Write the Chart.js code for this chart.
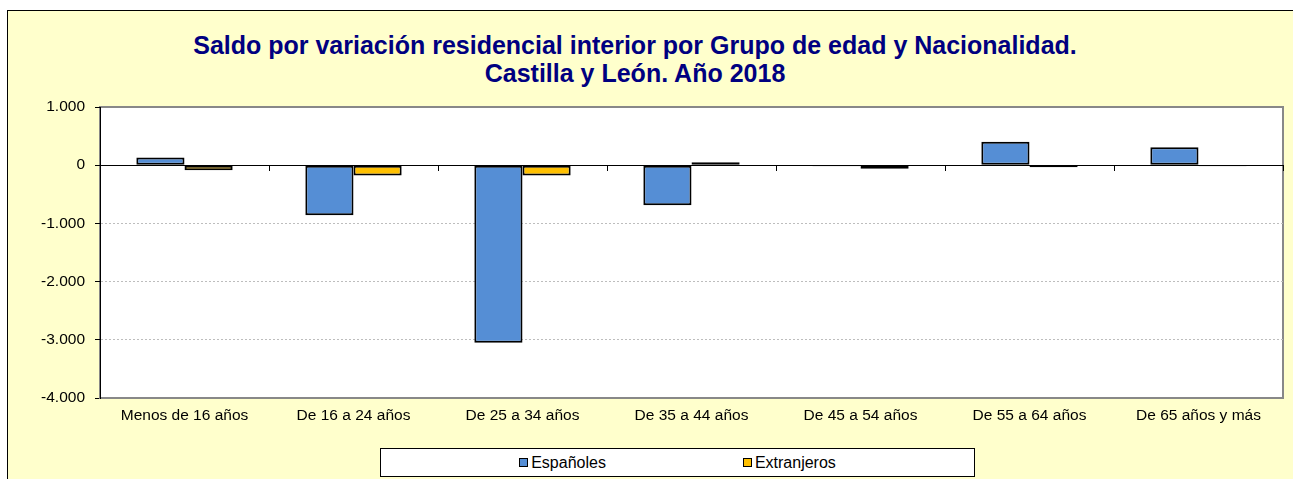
<!DOCTYPE html>
<html>
<head>
<meta charset="utf-8">
<script src="https://cdn.jsdelivr.net/npm/chart.js@4"></script>
<style>
  body {
    margin: 0;
    width: 1293px;
    height: 479px;
    overflow: hidden;
    background: #fff;
    position: relative;
    font-family: "Liberation Sans", Arial, sans-serif;
  }
  #marco {
    position: absolute;
    left: 7px;
    top: 10px;
    width: 1300px;
    height: 480px;
    background: #ffffcc;
    border-top: 1px solid #000;
    border-left: 1px solid #000;
  }
  #titulo {
    position: absolute;
    left: 0;
    top: 31px;
    width: 1270px;
    text-align: center;
    color: #000080;
    font-weight: bold;
    font-size: 25px;
    line-height: 28px;
  }
  #grafico {
    position: absolute;
    left: 0;
    top: 0;
  }
  #leyenda {
    position: absolute;
    left: 380px;
    top: 448px;
    width: 595px;
    height: 29px;
    box-sizing: border-box;
    background: #fff;
    border: 1px solid #000;
    display: flex;
    align-items: center;
    justify-content: center;
    gap: 137px;
    font-size: 16px;
    color: #000;
  }
  #leyenda .item { display: flex; align-items: center; }
  #leyenda .caja {
    width: 7px;
    height: 7px;
    border: 1.5px solid #000;
    margin-right: 3px;
  }
</style>
</head>
<body>
<div id="marco"></div>
<div id="titulo">Saldo por variación residencial interior por Grupo de edad y Nacionalidad.<br>Castilla y León. Año 2018</div>
<canvas id="grafico" width="1293" height="479"></canvas>
<div id="leyenda"></div>
<script>
// datos
const categorias = ['Menos de 16 años', 'De 16 a 24 años', 'De 25 a 34 años', 'De 35 a 44 años',
  'De 45 a 54 años', 'De 55 a 64 años', 'De 65 años y más']
const espanoles = [132, -859, -3052, -687, -18, 402, 309]
const extranjeros = [-86, -175, -177, 50, -60, -35, -18]
const series = ['Españoles', 'Extranjeros']
const colores = ['#558ed5', '#ffc000']
const ejeY = { min: -4000, max: 1000, paso: 1000 }
const lineasGuia = [-1000, -2000, -3000]

const fuente = { family: '"Liberation Sans", Arial, sans-serif', size: 15.5 }

// 1.000 / -4.000
const formato = (v) => {
  const s = String(Math.abs(v)).replace(/\B(?=(\d{3})+(?!\d))/g, '.')
  return v < 0 ? '-' + s : s
}

// fondo blanco y marco gris del área de trazado
const fondoArea = {
  id: 'fondoArea',
  beforeDraw: (chart) => {
    const { ctx, chartArea: a } = chart
    ctx.save()
    ctx.fillStyle = '#fff'
    ctx.fillRect(a.left, a.top, a.width, a.height)
    ctx.strokeStyle = '#888'
    ctx.lineWidth = 2
    ctx.strokeRect(a.left, a.top, a.width, a.height)
    ctx.restore()
  }
}

const chart = new Chart(document.getElementById('grafico'), {
  type: 'bar',
  data: {
    labels: categorias,
    datasets: [
      { label: series[0], data: espanoles, backgroundColor: colores[0] },
      { label: series[1], data: extranjeros, backgroundColor: colores[1] }
    ].map(d => Object.assign(d, {
      xAxisID: 'x',
      borderColor: '#000',
      borderWidth: 2,
      borderSkipped: false,
      categoryPercentage: 0.57,
      barPercentage: 1
    }))
  },
  options: {
    responsive: false,
    animation: false,
    layout: { padding: { top: 107, right: 10, bottom: 0, left: 0 } },
    plugins: {
      legend: { display: false },
      title: { display: false },
      tooltip: { enabled: false }
    },
    scales: {
      x: {
        position: 'bottom',
        ticks: { color: '#000', font: fuente, padding: 8, maxRotation: 0, autoSkip: false },
        grid: { display: false, drawTicks: false },
        border: { color: '#888', width: 2 },
        afterFit: (s) => { s.height = 81 }
      },
      x2: {
        type: 'category',
        labels: categorias,
        position: { y: 0 },
        offset: true,
        ticks: { display: false },
        grid: { offset: true, drawOnChartArea: false, tickLength: 5, tickColor: '#000' },
        border: { color: '#000', width: 1 }
      },
      y: {
        min: ejeY.min,
        max: ejeY.max,
        ticks: { stepSize: ejeY.paso, color: '#000', font: fuente, padding: 10, callback: formato },
        grid: {
          color: (c) => (c.tick && lineasGuia.includes(c.tick.value)) ? '#bdbdbd' : 'rgba(0,0,0,0)',
          tickColor: '#000',
          tickLength: 5
        },
        border: { color: '#000', width: 1, dash: [2, 2] },
        afterFit: (s) => { s.width = 100 }
      }
    }
  },
  plugins: [fondoArea]
})

// leyenda propia (recuadro centrado bajo el gráfico)
const leyenda = document.getElementById('leyenda')
chart.data.datasets.forEach((d) => {
  const item = document.createElement('div')
  item.className = 'item'
  const caja = document.createElement('span')
  caja.className = 'caja'
  caja.style.background = d.backgroundColor
  item.appendChild(caja)
  item.appendChild(document.createTextNode(d.label))
  leyenda.appendChild(item)
})
</script>
</body>
</html>
